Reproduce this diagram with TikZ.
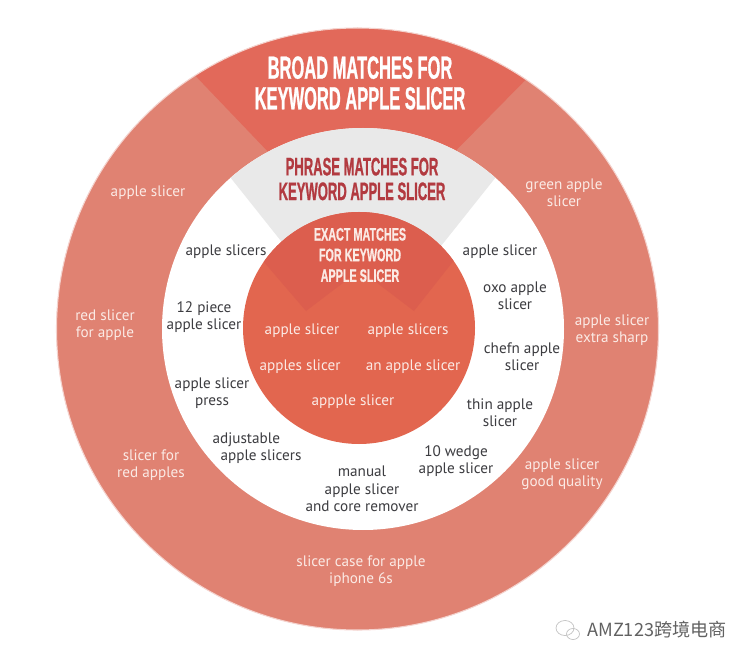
\documentclass[tikz,border=0pt]{standalone}
\usepackage{fontspec}
\usepackage{xcolor}
\setmainfont{PT Sans}
\newfontfamily\headfont[FakeStretch=0.515,FakeBold=0.8]{Liberation Sans}
\newfontfamily\exactfont[FakeStretch=0.6,FakeBold=0.8]{Liberation Sans}
\newfontfamily\cjkfont{Noto Sans CJK SC}
\definecolor{ringlight}{HTML}{E08272}
\definecolor{ringdark}{HTML}{E2695A}
\definecolor{phrasegray}{HTML}{E9E9E9}
\definecolor{coremid}{HTML}{E2664F}
\definecolor{coredark}{HTML}{DC5E4E}
\definecolor{phrasetext}{HTML}{B23A40}
\definecolor{softwhite}{HTML}{FBEAE5}
\definecolor{inktext}{HTML}{3C3C40}

\begin{document}
\begin{tikzpicture}[x=0.75pt,y=-0.75pt,
    lightlabel/.style={align=center, text=softwhite, font=\fontsize{11.4}{13}\selectfont, inner sep=0pt, yshift=-1.5pt},
    darklabel/.style={align=center, text=inktext, font=\fontsize{11.4}{13}\selectfont, inner sep=0pt, yshift=-1.5pt},
    headlabel/.style={align=center, inner sep=0pt}]
\useasboundingbox (0,0) rectangle (750,663);

% Outer ring with broad sector
\fill[ringlight] (357.5,329) circle (301);
\begin{scope}
\clip (357.5,329) circle (301);
\fill[ringdark] (360,248) -- (100,-24) -- (360,-100) -- (620,-16) -- cycle;
\end{scope}
\draw[line width=0.8pt, color=ringlight!35!white] (357.5,329) circle (301);

% White ring with phrase sector
\fill[white] (363,329) circle (201);
\begin{scope}
\clip (363,329) circle (201);
\fill[phrasegray] (363,344) -- (195,133) -- (363,100) -- (531,133) -- cycle;
\end{scope}

% Core circle with exact sector
\fill[coremid] (359,328) circle (116);
\begin{scope}
\clip (359,328) circle (116);
\fill[coredark] (306,311) -- (245,240) -- (359,190) -- (470,240) -- (414,311) -- (360,270) -- cycle;
\end{scope}

% Headings
\node[headlabel, text=white, font=\headfont\bfseries\fontsize{24}{23}\selectfont] (broadhead) at (360,83) {BROAD MATCHES FOR\\KEYWORD APPLE SLICER};
\node[headlabel, text=phrasetext, font=\headfont\bfseries\fontsize{19}{18.5}\selectfont] (phrasehead) at (362,179) {PHRASE MATCHES FOR\\KEYWORD APPLE SLICER};
\node[headlabel, text=softwhite, font=\exactfont\bfseries\fontsize{13.5}{15.5}\selectfont] (exacthead) at (360,255) {EXACT MATCHES\\FOR KEYWORD\\APPLE SLICER};

% Broad keywords
\foreach \nm/\x/\y/\txt in {
    bapple/148/191/{apple slicer},
    bred/105/323/{red slicer\\for apple},
    bredapples/151/463/{slicer for\\red apples},
    bcase/361/569/{slicer case for apple\\iphone 6s},
    bgood/562/472/{apple slicer\\good quality},
    bsharp/612/328/{apple slicer\\extra sharp},
    bgreen/564/191/{green apple\\slicer}} {
    \node[lightlabel] (\nm) at (\x,\y) {\txt};
}

% Phrase keywords
\foreach \nm/\x/\y/\txt in {
    pslicers/226/250/{apple slicers},
    ppiece/204/315/{12 piece\\apple slicer},
    ppress/212/391/{apple slicer\\press},
    padjust/261/446/{adjustable\hspace*{22pt}\\apple slicers},
    pmanual/362/487/{manual\\apple slicer\\and core remover},
    pwedge/456/459/{10 wedge\\apple slicer},
    pthin/500/411/{thin apple\\slicer},
    pchefn/522/355/{chefn apple\\slicer},
    poxo/515/294/{oxo apple\\slicer},
    pslicer/500/250/{apple slicer}} {
    \node[darklabel] (\nm) at (\x,\y) {\txt};
}

% Exact keywords
\foreach \nm/\x/\y/\txt in {
    eslicer/302/329/{apple slicer},
    eslicers/408/329/{apple slicers},
    eapples/300/365/{apples slicer},
    ean/413/365/{an apple slicer},
    eappple/353/400/{appple slicer}} {
    \node[lightlabel] (\nm) at (\x,\y) {\txt};
}

% Watermark
\begin{scope}[draw=black!25, line width=0.5pt]
\draw (565,628) ellipse (9 and 7.5);
\draw (573,634) ellipse (6.5 and 5.5);
\end{scope}
\node[inner sep=0pt, anchor=west, text=black!62, font=\cjkfont\fontsize{13.6}{15}\selectfont] (mark) at (587,630) {AMZ123跨境电商};
\end{tikzpicture}
\end{document}
